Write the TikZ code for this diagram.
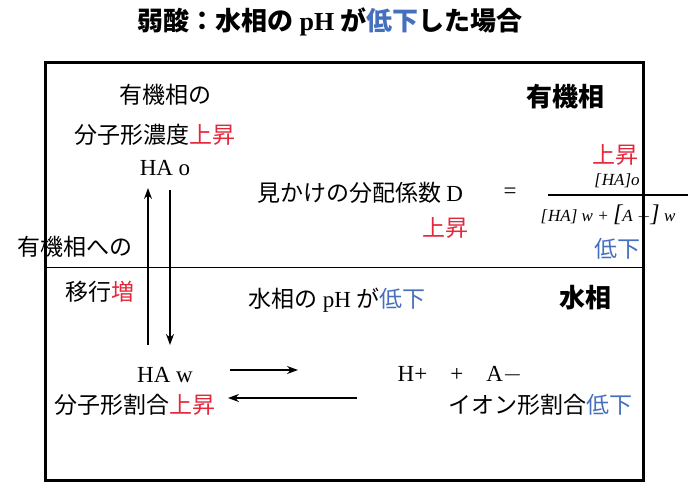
\documentclass[tikz,border=0pt]{standalone}
\usepackage{fontspec}
\setmainfont{Liberation Serif}
\newfontfamily\jp{Noto Sans CJK JP}
\usetikzlibrary{arrows.meta}
\definecolor{rd}{RGB}{228,40,60}
\definecolor{bl}{RGB}{70,112,190}
\tikzset{t/.style={font=\jp\fontsize{23}{25}\selectfont,inner sep=0pt},
 tb/.style={font=\jp\bfseries\fontsize{26}{28}\selectfont,inner sep=0pt},
 fm/.style={font=\rmfamily\itshape\fontsize{17}{19}\selectfont,inner sep=0pt},
 ar/.style={-{Stealth[length=11pt,width=8pt]},line width=1.3pt}}
\begin{document}
\begin{tikzpicture}[x=1pt,y=-1pt]
\useasboundingbox (0,0) rectangle (698,488);
\node[tb] (title) at (330,22) {弱酸：水相の {\rmfamily pH} が{\color{bl}低下}した場合};
\draw[line width=3pt] (45,62) rectangle (643,480);
\draw[line width=0.6pt] (45,267) -- (643,267);
\node[t] (o1) at (165,95) {有機相の};
\node[t] (o2) at (155,135) {分子形濃度{\color{rd}上昇}};
\node[t] (hao) at (165,168) {\rmfamily HA o};
\node[tb] (yu) at (565,97) {有機相};
\node[tb] (sui) at (585,298) {水相};
\node[t] (mk) at (360,193) {見かけの分配係数 {\rmfamily D}};
\node[t] (eq) at (510,193) {\rmfamily =};
\node[t,text=rd] (up1) at (445,228) {上昇};
\node[t,text=rd] (up2) at (615,155) {上昇};
\node[fm] (num) at (617,181) {[\kern1pt HA]o};
\coordinate (fl) at (548,195); \coordinate (fr) at (688,195);
\draw[line width=2pt] (fl) -- (fr);
\node[fm] (den) at (608,215) {[\kern1pt HA] w + {\fontsize{24}{24}\selectfont[}A $-${\fontsize{24}{24}\selectfont]} w};
\node[t,text=bl] (dn) at (617,249) {低下};
\node[t] (ik1) at (75,247) {有機相への};
\node[t] (ik2) at (100,292) {移行{\color{rd}増}};
\node[t] (ph) at (337,300) {水相の {\rmfamily pH} が{\color{bl}低下}};
\node[t] (haw) at (165,375) {\rmfamily HA w};
\node[t] (w2) at (135,405) {分子形割合{\color{rd}上昇}};
\node[t] (ion) at (460,375) {\rmfamily H+\quad +\quad A$-$};
\node[t] (i2) at (540,405) {イオン形割合{\color{bl}低下}};
\coordinate (a1) at (148,345); \coordinate (a2) at (148,188);
\coordinate (b1) at (170,190); \coordinate (b2) at (170,345);
\draw[ar] (a1) -- (a2);
\draw[ar] (b1) -- (b2);
\coordinate (c1) at (230,370); \coordinate (c2) at (298,370);
\coordinate (d1) at (357,398); \coordinate (d2) at (228,398);
\draw[ar] (c1) -- (c2);
\draw[ar] (d1) -- (d2);
\end{tikzpicture}
\end{document}
